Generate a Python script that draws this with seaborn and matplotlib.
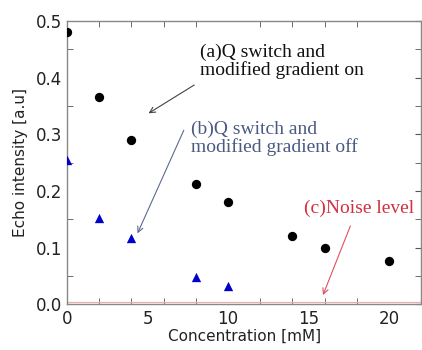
import matplotlib
matplotlib.use('Agg')
import matplotlib.pyplot as plt
import seaborn as sns
import pandas as pd
from matplotlib.ticker import MultipleLocator, FixedLocator, FormatStrFormatter

# data
conc_on = [0, 2, 4, 8, 10, 14, 16, 20]
echo_on = [0.48, 0.366, 0.289, 0.212, 0.180, 0.120, 0.100, 0.076]
conc_off = [0, 2, 4, 8, 10]
echo_off = [0.255, 0.153, 0.117, 0.048, 0.032]
noise_level = 0.004

sns.set_style('white')
plt.rcParams['font.family'] = ['DejaVu Sans']

df_on = pd.DataFrame({'Concentration': conc_on, 'Echo': echo_on})
df_off = pd.DataFrame({'Concentration': conc_off, 'Echo': echo_off})

fig = plt.figure(figsize=(4.22, 3.5), dpi=100)
ax = fig.add_axes([0.159, 0.131, 0.839, 0.809])

sns.scatterplot(data=df_on, x='Concentration', y='Echo', ax=ax, color='black',
                marker='o', s=45, edgecolor='black', linewidth=0, zorder=3)
sns.scatterplot(data=df_off, x='Concentration', y='Echo', ax=ax, color='#0000cc',
                marker='^', s=45, edgecolor='#0000cc', linewidth=0, zorder=3)
ax.axhline(noise_level, color='#eab0b0', linewidth=0.9, zorder=1)

ax.set_xlim(0, 22)
ax.set_ylim(0, 0.5)
ax.xaxis.set_major_locator(FixedLocator([0, 5, 10, 15, 20]))
ax.xaxis.set_minor_locator(MultipleLocator(2))
ax.yaxis.set_major_locator(MultipleLocator(0.1))
ax.yaxis.set_minor_locator(MultipleLocator(0.05))
ax.yaxis.set_major_formatter(FormatStrFormatter('%.1f'))
ax.tick_params(axis='x', which='major', length=0, labelsize=12, colors='#222222', pad=4)
ax.tick_params(axis='y', which='major', length=4, labelsize=12, colors='#222222',
               direction='in', right=True)
ax.tick_params(which='minor', direction='in', length=4, top=True, right=True,
               bottom=True, left=True, color='#555555')
ax.tick_params(axis='y', which='major', color='#555555')
for sp in ax.spines.values():
    sp.set_color('#888888')
    sp.set_linewidth(1.0)

ax.set_xlabel('Concentration [mM]', fontsize=11, color='#222222', labelpad=1)
ax.set_ylabel('Echo intensity [a.u]', fontsize=11, color='#222222', labelpad=6)

serif = ['Liberation Serif', 'DejaVu Serif']
ax.text(8.25, 0.428, '(a)Q switch and\nmodified gradient on', fontsize=14, family=serif,
        color='#111111', linespacing=1.0, va='center', ha='left')
ax.text(7.7, 0.293, '(b)Q switch and\nmodified gradient off', fontsize=14, family=serif,
        color='#4a5a80', linespacing=1.0, va='center', ha='left')
ax.text(14.7, 0.170, '(c)Noise level', fontsize=14, family=serif,
        color='#d03040', va='center', ha='left')

ax.annotate('', xy=(5.06, 0.337), xytext=(7.9, 0.387),
            arrowprops=dict(arrowstyle='->', color='#444444', lw=0.8, shrinkA=0, shrinkB=0))
ax.annotate('', xy=(4.375, 0.125), xytext=(7.25, 0.307),
            arrowprops=dict(arrowstyle='->', color='#5a6a90', lw=0.8, shrinkA=0, shrinkB=0))
ax.annotate('', xy=(15.9, 0.016), xytext=(17.6, 0.138),
            arrowprops=dict(arrowstyle='->', color='#e05060', lw=0.8, shrinkA=0, shrinkB=0))

plt.savefig('out.png', dpi=100)
plt.close()
